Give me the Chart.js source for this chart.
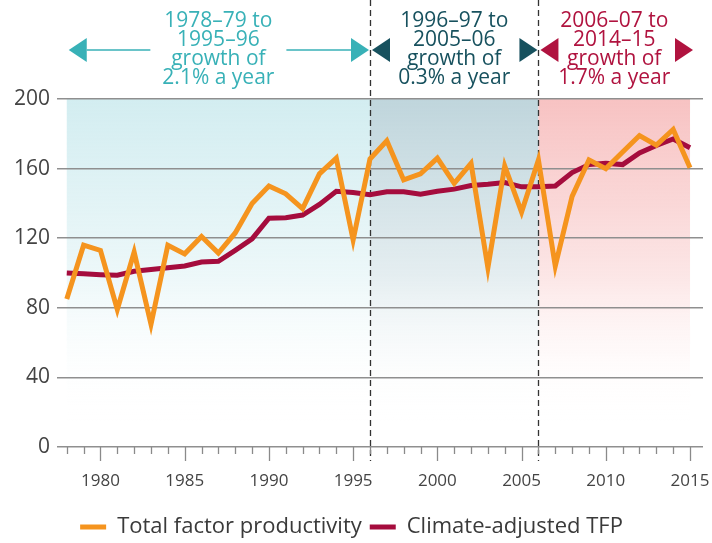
<!DOCTYPE html>
<html>
<head>
<meta charset="utf-8">
<script src="https://cdn.jsdelivr.net/npm/chart.js@4/dist/chart.umd.min.js"></script>
<style>
    html, body { margin: 0; padding: 0; background: #fff; }
    #wrap { width: 712px; height: 543px; }
</style>
</head>
<body>
<div id="wrap"><canvas id="graphique" width="712" height="543"></canvas></div>
<script>
// données (indice, base ~100 en 1978-79)
const annees = [1978, 1979, 1980, 1981, 1982, 1983, 1984, 1985, 1986, 1987,
                1988, 1989, 1990, 1991, 1992, 1993, 1994, 1995, 1996, 1997,
                1998, 1999, 2000, 2001, 2002, 2003, 2004, 2005, 2006, 2007,
                2008, 2009, 2010, 2011, 2012, 2013, 2014, 2015];
const tfp = [85, 116, 113, 79, 112, 70.5, 116, 111, 121, 111.5,
             123, 140, 150, 145.5, 137, 157, 166, 119, 165.5, 176,
             153.5, 157, 166, 151.5, 163, 103, 161.5, 135, 165, 104,
             144, 165, 160, 169.5, 179, 173.5, 182.5, 160.5];
const tfpClimat = [100, 99.5, 99, 98.7, 101, 102, 103, 104, 106.3, 106.7,
                   113, 119.6, 131.5, 131.8, 133.3, 139.4, 147, 146.3, 145, 146.7,
                   146.7, 145.3, 147, 148.2, 150.3, 151, 152, 149.5, 149.5, 150,
                   157.7, 162.3, 163, 162.3, 169, 173.3, 177, 172];
const yTicks = [0, 40, 80, 120, 160, 200];
const xLabels = [1980, 1985, 1990, 1995, 2000, 2005, 2010, 2015];

// périodes annotées en haut
const debutsPeriode = [1978, 1996, 2006];
const finsPeriode = [1996, 2006, 2015];
const textesPeriode = [
    ['1978–79 to', '1995–96', 'growth of', '2.1% a year'],
    ['1996–97 to', '2005–06', 'growth of', '0.3% a year'],
    ['2006–07 to', '2014–15', 'growth of', '1.7% a year']
];
const couleursPeriode = ['#38b1b7', '#17515e', '#b0133f'];
const fondsPeriode = ['rgba(203,234,238,0.85)', 'rgba(180,206,214,0.85)', 'rgba(246,184,184,0.85)'];
const separations = [1996, 2006];

const ORANGE = '#f5941e';
const BORDEAUX = '#a50c3d';
const POLICE = "'Open Sans', 'Noto Sans', sans-serif";

const fondPlugin = {
    id: 'fonds',
    beforeDraw(chart) {
        const { ctx, chartArea: a, scales: { x } } = chart;
        ctx.save();
        debutsPeriode.forEach((d, i) => {
            const x0 = x.getPixelForValue(d);
            const x1 = x.getPixelForValue(finsPeriode[i]);
            const g = ctx.createLinearGradient(0, a.top, 0, a.bottom - 25);
            g.addColorStop(0, fondsPeriode[i]);
            g.addColorStop(0.55, fondsPeriode[i].replace('0.85', '0.35'));
            g.addColorStop(1, 'rgba(255,255,255,0)');
            ctx.fillStyle = g;
            ctx.fillRect(x0, a.top, x1 - x0, a.bottom - a.top);
        });
        ctx.restore();
    },
    beforeDatasetsDraw(chart) {
        // lignes pointillées de séparation
        const { ctx, chartArea: a, scales: { x } } = chart;
        ctx.save();
        ctx.strokeStyle = '#333';
        ctx.lineWidth = 1.3;
        ctx.setLineDash([6, 4]);
        separations.forEach(s => {
            const px = Math.round(x.getPixelForValue(s)) + 0.5;
            ctx.beginPath();
            ctx.moveTo(px, 0);
            ctx.lineTo(px, a.bottom + 14);
            ctx.stroke();
        });
        ctx.restore();
    },
    afterDraw(chart) {
        const { ctx, chartArea: a, scales: { x } } = chart;
        ctx.save();

        // graduations de l'axe des x
        ctx.strokeStyle = '#8a8a8a';
        ctx.lineWidth = 1.3;
        annees.forEach(an => {
            const px = Math.round(x.getPixelForValue(an)) + 0.5;
            ctx.beginPath();
            ctx.moveTo(px, a.bottom);
            ctx.lineTo(px, a.bottom + (an % 5 === 0 ? 14 : 7));
            ctx.stroke();
        });

        // annotations et flèches
        const yFleche = 50;
        ctx.font = `21px ${POLICE}`;
        ctx.textAlign = 'center';
        ctx.textBaseline = 'alphabetic';
        debutsPeriode.forEach((d, i) => {
            const x0 = x.getPixelForValue(d);
            const x1 = x.getPixelForValue(finsPeriode[i]);
            const cx = (x0 + x1) / 2;
            const c = couleursPeriode[i];
            ctx.fillStyle = c;
            textesPeriode[i].forEach((t, k) => ctx.fillText(t, cx, 27 + k * 19));

            const larg = Math.max(...textesPeriode[i].map(t => ctx.measureText(t).width));
            const gauche = x0 + 2, droite = x1 + (i === 2 ? 3 : -1);
            // têtes de flèche
            ctx.beginPath();
            ctx.moveTo(gauche, yFleche);
            ctx.lineTo(gauche + 18, yFleche - 12);
            ctx.lineTo(gauche + 18, yFleche + 12);
            ctx.closePath();
            ctx.fill();
            ctx.beginPath();
            ctx.moveTo(droite, yFleche);
            ctx.lineTo(droite - 18, yFleche - 12);
            ctx.lineTo(droite - 18, yFleche + 12);
            ctx.closePath();
            ctx.fill();
            // traits
            ctx.strokeStyle = c;
            ctx.lineWidth = 1.5;
            const tg = cx - larg / 2 - 12, td = cx + larg / 2 + 12;
            if (tg > gauche + 18) {
                ctx.beginPath(); ctx.moveTo(gauche + 18, yFleche); ctx.lineTo(tg, yFleche); ctx.stroke();
            }
            if (td < droite - 18) {
                ctx.beginPath(); ctx.moveTo(td, yFleche); ctx.lineTo(droite - 18, yFleche); ctx.stroke();
            }
        });
        ctx.restore();
    }
};

new Chart(document.getElementById('graphique'), {
    type: 'line',
    data: {
        datasets: [{
            label: 'Total factor productivity',
            data: annees.map((an, i) => ({ x: an, y: tfp[i] })),
            borderColor: ORANGE,
            backgroundColor: ORANGE,
            borderWidth: 5,
            pointRadius: 0,
            tension: 0,
            order: 0
        }, {
            label: 'Climate-adjusted TFP',
            data: annees.map((an, i) => ({ x: an, y: tfpClimat[i] })),
            borderColor: BORDEAUX,
            backgroundColor: BORDEAUX,
            borderWidth: 5,
            pointRadius: 0,
            tension: 0,
            order: 1
        }]
    },
    options: {
        responsive: false,
        animation: false,
        devicePixelRatio: 1,
        layout: { padding: { top: 99, right: 9, left: 0, bottom: -5 } },
        plugins: {
            tooltip: { enabled: false },
            legend: {
                position: 'bottom',
                labels: {
                    usePointStyle: true,
                    pointStyle: 'line',
                    pointStyleWidth: 26,
                    padding: 8,
                    color: '#3a3a3a',
                    font: { family: POLICE, size: 22 }
                }
            }
        },
        scales: {
            x: {
                type: 'linear',
                min: 1977.42,
                max: 2015.77,
                afterBuildTicks: s => { s.ticks = xLabels.map(v => ({ value: v })); },
                afterFit: s => { s.height = 61; s.paddingLeft = 0; s.paddingRight = 0; },
                grid: { display: false, drawTicks: false },
                border: { display: false },
                ticks: {
                    autoSkip: false,
                    maxRotation: 0,
                    padding: 24,
                    color: '#444',
                    font: { family: POLICE, size: 17 },
                    callback: v => String(v)
                }
            },
            y: {
                min: 0,
                max: 200,
                afterBuildTicks: s => { s.ticks = yTicks.map(v => ({ value: v })); },
                afterFit: s => { s.width = 57; },
                grid: { color: '#8f8f8f', lineWidth: 1.5, drawTicks: false },
                border: { display: false },
                ticks: {
                    padding: 7,
                    color: '#444',
                    font: { family: POLICE, size: 21 }
                }
            }
        }
    },
    plugins: [fondPlugin]
});
</script>
</body>
</html>
